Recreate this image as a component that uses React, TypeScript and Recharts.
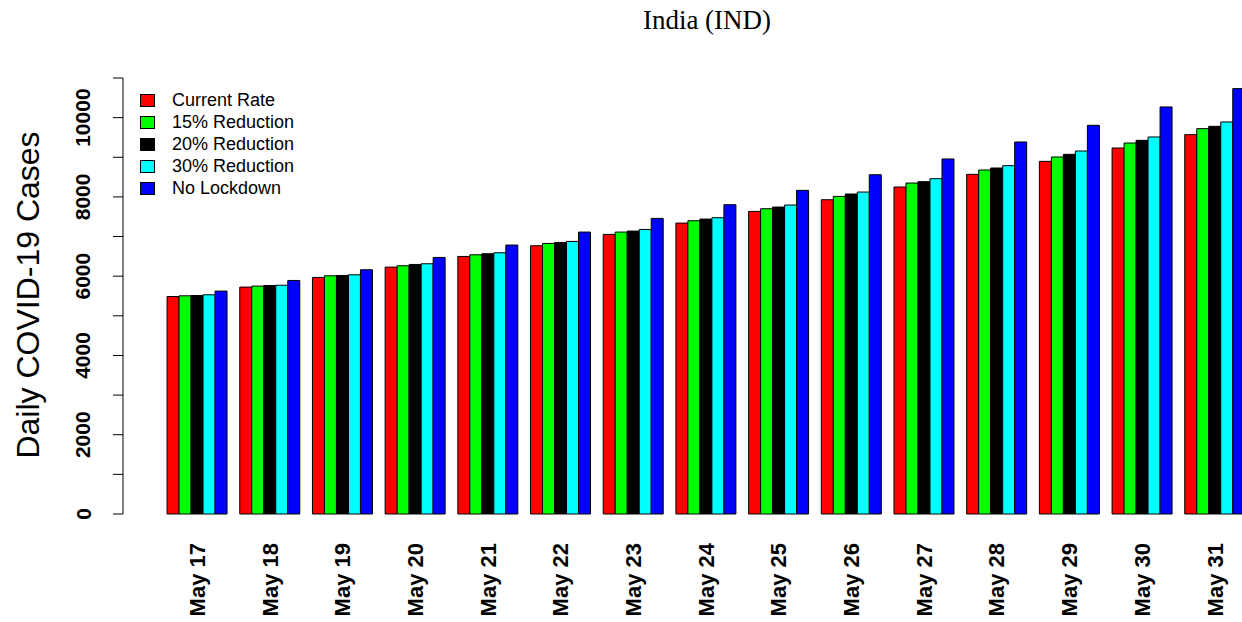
import { BarChart, Bar, XAxis, YAxis } from "recharts"

const days = ["May 17", "May 18", "May 19", "May 20", "May 21", "May 22", "May 23", "May 24",
  "May 25", "May 26", "May 27", "May 28", "May 29", "May 30", "May 31"]

const currentRate = [5487, 5725, 5968, 6229, 6498, 6768, 7054, 7340, 7634, 7929, 8250, 8569, 8897, 9234, 9571]
const reduction15 = [5505, 5750, 6010, 6263, 6540, 6826, 7113, 7399, 7702, 8013, 8350, 8679, 9007, 9360, 9722]
const reduction20 = [5512, 5765, 6018, 6296, 6566, 6851, 7138, 7441, 7744, 8073, 8384, 8729, 9074, 9427, 9781]
const reduction30 = [5530, 5772, 6035, 6313, 6591, 6877, 7180, 7475, 7795, 8123, 8460, 8788, 9158, 9512, 9891]
const noLockdown = [5624, 5892, 6162, 6473, 6785, 7113, 7458, 7803, 8165, 8560, 8957, 9386, 9806, 10270, 10732]

const yTicks = [0, 1000, 2000, 3000, 4000, 5000, 6000, 7000, 8000, 9000, 10000, 11000]

const series = [
  { key: "current", name: "Current Rate", color: "#FF0000" },
  { key: "r15", name: "15% Reduction", color: "#00FF00" },
  { key: "r20", name: "20% Reduction", color: "#000000" },
  { key: "r30", name: "30% Reduction", color: "#00FFFF" },
  { key: "none", name: "No Lockdown", color: "#0000FF" },
]

const data = days.map((day, i) => ({
  day,
  current: currentRate[i],
  r15: reduction15[i],
  r20: reduction20[i],
  r30: reduction30[i],
  none: noLockdown[i],
}))

const sans = "'Liberation Sans', Arial, sans-serif"

const YTick = (props: any) => {
  const { x, y, payload } = props
  if (payload.value % 2000 !== 0) return null
  const cx = x - 28
  return (
    <text x={cx} y={y} transform={`rotate(-90 ${cx} ${y})`} textAnchor="middle"
      dominantBaseline="central" fontFamily={sans} fontWeight="bold" fontSize={21} fill="#000">
      {payload.value}
    </text>
  )
}

const XTick = (props: any) => {
  const { x, payload } = props
  const ty = 543
  return (
    <text x={x} y={ty} transform={`rotate(-90 ${x} ${ty})`} textAnchor="end"
      dominantBaseline="central" fontFamily={sans} fontWeight="bold" fontSize={22} fill="#000">
      {payload.value}
    </text>
  )
}

export default function App() {
  return (
    <div style={{ position: "absolute", left: 0, top: 0, width: 1242, height: 622, overflow: "hidden", background: "#fff" }}>
      <div style={{ position: "absolute", left: 0, width: 1414, top: 5, textAlign: "center",
        fontFamily: "'Liberation Serif', 'Times New Roman', serif", fontSize: 27 }}>
        India (IND)
      </div>
      <div style={{ position: "absolute", left: 28, top: 295, transform: "translate(-50%, -50%) rotate(-90deg)",
        fontFamily: sans, fontSize: 32, whiteSpace: "nowrap" }}>
        Daily COVID-19 Cases
      </div>
      <BarChart width={1260} height={622} data={data} barGap={0} barCategoryGap="8.333%"
        margin={{ top: 78, right: 8.6, bottom: 0, left: 0 }}>
        <XAxis dataKey="day" height={108} axisLine={false} tickLine={false} interval={0}
          padding={{ left: 38, right: 0 }} tick={<XTick />} />
        <YAxis width={123} domain={[0, 11000]} ticks={yTicks} interval={0} tickSize={10}
          stroke="#000" tick={<YTick />} />
        {series.map((s) => (
          <Bar key={s.key} dataKey={s.key} name={s.name} fill={s.color} stroke="#000"
            strokeWidth={1} isAnimationActive={false} />
        ))}
      </BarChart>
      <div style={{ position: "absolute", left: 140, top: 89, fontFamily: sans, fontSize: 18, color: "#000" }}>
        {series.map((s) => (
          <div key={s.key} style={{ display: "flex", alignItems: "center", height: 22 }}>
            <span style={{ width: 13, height: 11, background: s.color, border: "1px solid #000", marginRight: 17 }} />
            <span>{s.name}</span>
          </div>
        ))}
      </div>
    </div>
  )
}
